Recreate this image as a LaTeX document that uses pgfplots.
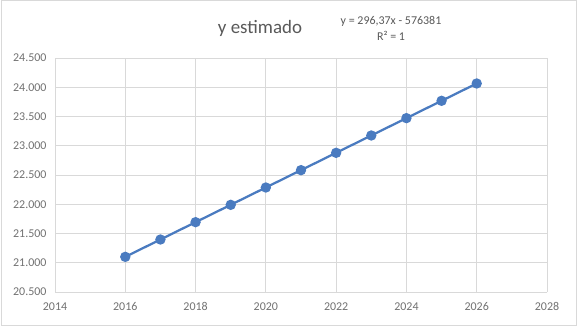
\documentclass[border=0pt]{standalone}
\usepackage{pgfplots}
\pgfplotsset{compat=1.18}
\usepackage{fontspec}
\setmainfont{Carlito}
\definecolor{serie}{RGB}{74,123,192}
\definecolor{ticktext}{RGB}{89,89,89}
\definecolor{gridc}{RGB}{217,217,217}
\begin{document}
\begin{tikzpicture}
\path[use as bounding box] (0,0) rectangle (577bp,326bp);
\fill[white] (0,0) rectangle (577bp,326bp);
\draw[gridc, line width=1bp] (1bp,1bp) rectangle (576bp,325bp);
\begin{axis}[
  at={(55bp,34bp)}, anchor=south west,
  scale only axis,
  width=492bp, height=234bp,
  xmin=2014, xmax=2028, ymin=20500, ymax=24500,
  xtick={2014,2016,...,2028},
  ytick={20500,21000,...,24500},
  scaled y ticks=false,
  grid=major,
  grid style={gridc, line width=0.75bp},
  axis line style={gridc, line width=0.75bp},
  axis x line*=bottom, axis y line*=left,
  x axis line style={-}, y axis line style={-},
  tick style={draw=none},
  x tick label style={/pgf/number format/1000 sep={}},
  y tick label style={/pgf/number format/fixed, /pgf/number format/precision=0, /pgf/number format/1000 sep={.}},
  /pgf/number format/assume math mode=true,
  tick label style={font=\fontsize{12}{14}\selectfont, text=ticktext!85},
  xticklabel style={yshift=-7bp},
  yticklabel style={xshift=-5bp},
  clip=false,
]
\addplot[serie, line width=2.25bp, mark=*, mark size=4bp, mark options={fill=serie, draw=serie}]
coordinates {
(2016,21100.92) (2017,21397.29) (2018,21693.66) (2019,21990.03) (2020,22286.40)
(2021,22582.77) (2022,22879.14) (2023,23175.51) (2024,23471.88) (2025,23768.25) (2026,24064.62)
};
\end{axis}
\node[text=ticktext, font=\fontsize{19}{22}\selectfont] at (260bp,298bp) {y estimado};
\node[text=ticktext, font=\fontsize{12}{14}\selectfont, align=center] at (391bp,298bp) {y = 296,37x - 576381\\[2bp]R² = 1};
\end{tikzpicture}
\end{document}
